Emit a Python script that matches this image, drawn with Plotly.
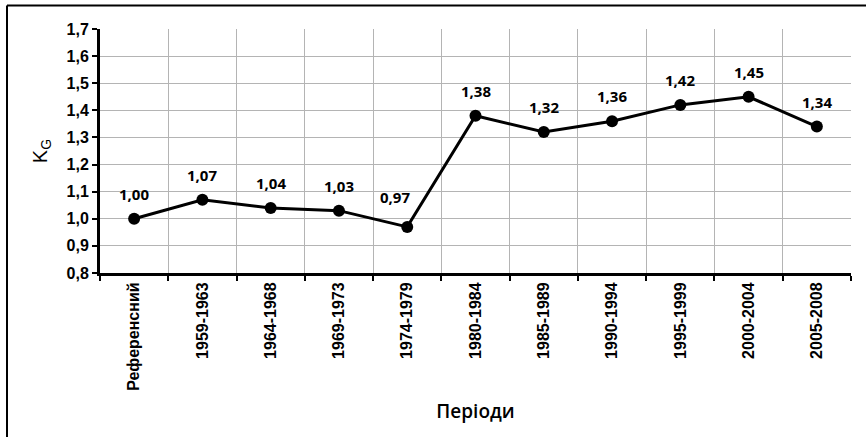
import plotly.graph_objects as go

categories = ["Референсний", "1959-1963", "1964-1968", "1969-1973", "1974-1979",
              "1980-1984", "1985-1989", "1990-1994", "1995-1999", "2000-2004", "2005-2008"]
values = [1.00, 1.07, 1.04, 1.03, 0.97, 1.38, 1.32, 1.36, 1.42, 1.45, 1.34]
labels = ["1,00", "1,07", "1,04", "1,03", "0,97", "1,38", "1,32", "1,36", "1,42", "1,45", "1,34"]
y_ticks = [0.8, 0.9, 1.0, 1.1, 1.2, 1.3, 1.4, 1.5, 1.6, 1.7]

fig = go.Figure()
fig.add_trace(go.Scatter(
    x=categories, y=values, mode="lines+markers",
    line=dict(color="black", width=3),
    marker=dict(color="black", size=12),
    cliponaxis=False,
))

# label placement tweaks (style only)
label_shift = {"1974-1979": (-12, 5)}
annotations = []
for c, v, t in zip(categories, values, labels):
    dx, dy = label_shift.get(c, (0, 0))
    annotations.append(dict(
        x=c, y=v, xref="x", yref="y", text=t, showarrow=False,
        yanchor="bottom", xanchor="center", xshift=dx, yshift=13 + dy,
        font=dict(family="Open Sans", size=15, color="black", weight="bold"),
    ))

W, H = 866, 437
L, R, T, B = 100, 15, 29, 164
pw, ph = W - L - R, H - T - B

def px(x):
    return (x - L) / pw

def py(y):
    return (H - B - y) / ph

fig.update_layout(
    width=W, height=H,
    margin=dict(l=L, r=R, t=T, b=B, autoexpand=False),
    paper_bgcolor="white", plot_bgcolor="white",
    separators=", ",
    showlegend=False,
    font=dict(family="Liberation Sans", color="black"),
    annotations=annotations,
    xaxis=dict(
        type="category", tickson="boundaries",
        range=[-0.5, 10.5],
        showgrid=True, gridcolor="#b4b4b4", gridwidth=1,
        showline=True, linecolor="black", linewidth=3,
        ticks="outside", ticklen=5, tickwidth=2, tickcolor="black",
        tickangle=-90,
        tickfont=dict(family="Liberation Sans", size=16, color="black", weight="bold"),
        title=dict(text="Періоди", font=dict(family="Open Sans", size=19, color="black", weight=600),
                   standoff=15),
    ),
    yaxis=dict(
        range=[0.8, 1.7], tickvals=y_ticks,
        tickformat=".1f",
        showgrid=True, gridcolor="#b4b4b4", gridwidth=1,
        showline=True, linecolor="black", linewidth=3,
        ticks="outside", ticklen=5, tickwidth=2, tickcolor="black",
        tickfont=dict(family="Liberation Sans", size=16, color="black", weight="bold"),
        title=dict(text="K<sub>G</sub>", font=dict(family="Liberation Sans", size=20, color="black"),
                   standoff=14),
    ),
    shapes=[
        dict(type="line", xref="paper", yref="paper",
             x0=px(7), x1=px(870), y0=py(5.5), y1=py(5.5),
             line=dict(color="black", width=2)),
        dict(type="line", xref="paper", yref="paper",
             x0=px(7), x1=px(7), y0=py(5.5), y1=py(445),
             line=dict(color="black", width=2)),
    ],
)

fig.write_html("out.html", config={"displayModeBar": False},
               post_script="document.body.style.margin='0';")
